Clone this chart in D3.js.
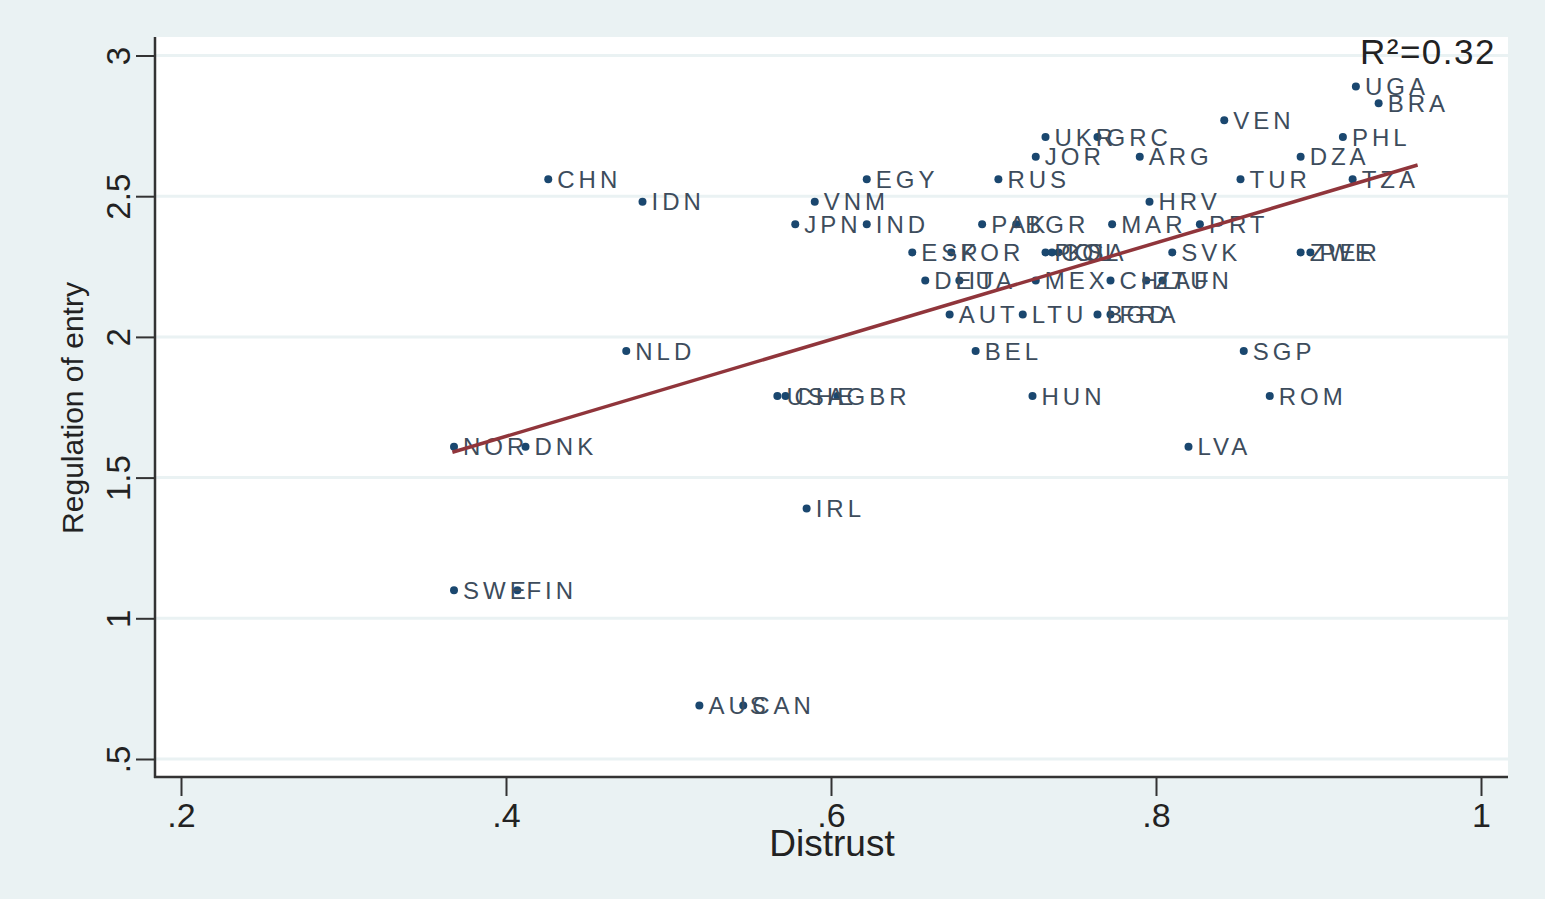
<!DOCTYPE html>
<html>
<head>
<meta charset="utf-8">
<script src="https://cdn.jsdelivr.net/npm/d3@7"></script>
<style>
  body { margin: 0; background: #eaf2f3; }
  text { font-family: "Liberation Sans", Arial, sans-serif; }
</style>
</head>
<body>
<svg id="chart" width="1545" height="899"></svg>
<script>
// country codes, distrust (x) and regulation of entry (y)
const countries = ["UGA","BRA","VEN","UKR","GRC","PHL","JOR","ARG","DZA","CHN","EGY","RUS","TUR","TZA",
  "IDN","VNM","HRV","JPN","IND","PAK","BGR","MAR","PRT","ESP","KOR","POL","COL","KSA","SVK","ZWE","PER",
  "DEU","ITA","MEX","CHL","ZAF","TUN","AUT","LTU","BGD","FRA","NLD","BEL","SGP","USA","CHE","GBR","HUN",
  "ROM","NOR","DNK","LVA","IRL","SWE","FIN","AUS","CAN"];
const distrust = [0.923,0.937,0.842,0.732,0.764,0.915,0.726,0.790,0.889,0.426,0.622,0.703,0.852,0.921,
  0.484,0.590,0.796,0.578,0.622,0.693,0.714,0.773,0.827,0.650,0.674,0.732,0.736,0.740,0.810,0.889,0.895,
  0.658,0.679,0.726,0.772,0.794,0.804,0.673,0.718,0.764,0.772,0.474,0.689,0.854,0.567,0.572,0.604,0.724,
  0.870,0.368,0.412,0.820,0.585,0.368,0.407,0.519,0.546];
const regulation = [2.89,2.83,2.77,2.71,2.71,2.71,2.64,2.64,2.64,2.56,2.56,2.56,2.56,2.56,
  2.48,2.48,2.48,2.40,2.40,2.40,2.40,2.40,2.40,2.30,2.30,2.30,2.30,2.30,2.30,2.30,2.30,
  2.20,2.20,2.20,2.20,2.20,2.20,2.08,2.08,2.08,2.08,1.95,1.95,1.95,1.79,1.79,1.79,1.79,
  1.79,1.61,1.61,1.61,1.39,1.10,1.10,0.69,0.69];

// linear fit end points
const fitX = [0.367, 0.961];
const fitY = [1.59, 2.611];

const xTicks = [0.2, 0.4, 0.6, 0.8, 1];
const yTicks = [0.5, 1, 1.5, 2, 2.5, 3];
const r2Label = "R²=0.32";

let svg = d3.select("#chart");

// plot region
let plotLeft = 155, plotRight = 1508, plotTop = 37, plotBottom = 777;

let x = d3.scaleLinear().domain([0.2, 1]).range([181, 1481]);
let y = d3.scaleLinear().domain([0.5, 3]).range([759, 55.5]);

let stataFmt = function (d) {
    return String(d).replace(/^0\./, ".");
};

svg.append("rect")
    .attr("width", 1545).attr("height", 899)
    .attr("fill", "#eaf2f3");

svg.append("rect")
    .attr("x", plotLeft).attr("y", plotTop)
    .attr("width", plotRight - plotLeft).attr("height", plotBottom - plotTop)
    .attr("fill", "#ffffff");

// gridlines
svg.selectAll(".grid")
    .data(yTicks)
    .join("line")
    .attr("x1", plotLeft).attr("x2", plotRight)
    .attr("y1", d => y(d)).attr("y2", d => y(d))
    .attr("stroke", "#eaf2f3")
    .attr("stroke-width", 3);

// y axis
let yAxis = svg.append("g")
    .attr("transform", `translate(${plotLeft},0)`)
    .call(d3.axisLeft(y).tickValues(yTicks).tickFormat(stataFmt).tickSize(19).tickSizeOuter(0));
yAxis.select(".domain").remove();
yAxis.selectAll(".tick line").attr("stroke", "#333").attr("stroke-width", 2);
yAxis.selectAll(".tick text")
    .attr("x", 0).attr("y", 0).attr("dy", "0.36em")
    .attr("transform", "translate(-37,0) rotate(-90)")
    .style("text-anchor", "middle")
    .style("font-size", "33px")
    .attr("fill", "#222");

// x axis
let xAxis = svg.append("g")
    .attr("transform", `translate(0,${plotBottom})`)
    .call(d3.axisBottom(x).tickValues(xTicks).tickFormat(stataFmt).tickSize(19).tickSizeOuter(0));
xAxis.select(".domain").remove();
xAxis.selectAll(".tick line").attr("stroke", "#333").attr("stroke-width", 2);
xAxis.selectAll(".tick text")
    .attr("y", 26).attr("dy", "0.72em")
    .style("font-size", "34px")
    .attr("fill", "#222");

// axis lines
svg.append("line")
    .attr("x1", plotLeft).attr("x2", plotLeft)
    .attr("y1", plotTop).attr("y2", plotBottom + 1)
    .attr("stroke", "#333").attr("stroke-width", 2.5);
svg.append("line")
    .attr("x1", plotLeft - 1).attr("x2", plotRight)
    .attr("y1", plotBottom).attr("y2", plotBottom)
    .attr("stroke", "#333").attr("stroke-width", 2.5);

// titles
svg.append("text")
    .attr("x", 832).attr("y", 856)
    .style("text-anchor", "middle")
    .style("font-size", "37px")
    .attr("fill", "#222")
    .text("Distrust");

svg.append("text")
    .attr("transform", "translate(83,408) rotate(-90)")
    .style("text-anchor", "middle")
    .style("font-size", "30px")
    .attr("fill", "#222")
    .text("Regulation of entry");

let points = countries.map(function (c, i) {
    return {code: c, x: distrust[i], y: regulation[i]};
});

// markers
svg.selectAll(".pt")
    .data(points)
    .join("circle")
    .attr("cx", d => x(d.x))
    .attr("cy", d => y(d.y))
    .attr("r", 4)
    .attr("fill", "#1a476f");

// country labels
svg.selectAll(".lbl")
    .data(points)
    .join("text")
    .attr("x", d => x(d.x) + 9)
    .attr("y", d => y(d.y))
    .attr("dy", "0.36em")
    .style("font-size", "24px")
    .style("letter-spacing", "4px")
    .attr("fill", "#3d4c5c")
    .text(d => d.code);

// fit line
svg.append("line")
    .attr("x1", x(fitX[0])).attr("y1", y(fitY[0]))
    .attr("x2", x(fitX[1])).attr("y2", y(fitY[1]))
    .attr("stroke", "#90353b")
    .attr("stroke-width", 3.5);

svg.append("text")
    .attr("x", 1496).attr("y", 64)
    .style("text-anchor", "end")
    .style("font-size", "35px")
    .style("letter-spacing", "1.5px")
    .attr("fill", "#222")
    .text(r2Label);
</script>
</body>
</html>
